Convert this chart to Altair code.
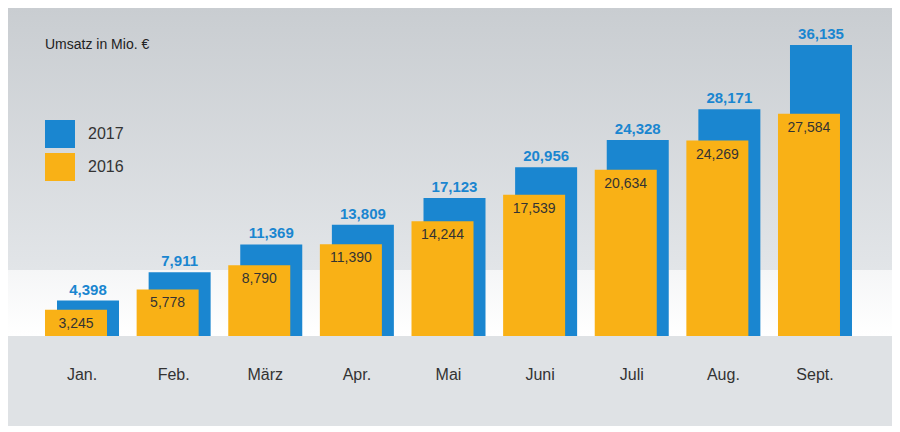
import altair as alt
import pandas as pd

months = ["Jan.", "Feb.", "März", "Apr.", "Mai", "Juni", "Juli", "Aug.", "Sept."]
umsatz_2017 = [4.398, 7.911, 11.369, 13.809, 17.123, 20.956, 24.328, 28.171, 36.135]
umsatz_2016 = [3.245, 5.778, 8.790, 11.390, 14.244, 17.539, 20.634, 24.269, 27.584]

BLUE = "#1a86d0"
YELLOW = "#f9b116"
W, H = 884, 328

df = pd.DataFrame({"m": months, "v17": umsatz_2017, "v16": umsatz_2016})

x = alt.X("m:N", sort=months, title=None,
          scale=alt.Scale(range=[28.2, 852.8], paddingInner=0, paddingOuter=0),
          axis=alt.Axis(domain=False, ticks=False, grid=False, labelAngle=0,
                        labelFontSize=16, labelColor="#333", labelPadding=30,
                        labelFont="Liberation Sans", zindex=2))
yscale = alt.Scale(domain=[0, 40.73])
y = alt.Y("v17:Q", scale=yscale, axis=None)
y16 = alt.Y("v16:Q", scale=yscale, axis=None)

base = alt.Chart(df)
one = pd.DataFrame({"a": [0]})

bg_top = alt.Chart(one).mark_rect(
    color=alt.Gradient(gradient="linear", x1=0, y1=0, x2=0, y2=1,
                       stops=[alt.GradientStop(color="#c9cdd1", offset=0),
                              alt.GradientStop(color="#e2e5e8", offset=1)])
).encode(x=alt.value(0), x2=alt.value(W), y=alt.value(0), y2=alt.value(262))
bg_floor = alt.Chart(one).mark_rect(
    color=alt.Gradient(gradient="linear", x1=0, y1=0, x2=0, y2=1,
                       stops=[alt.GradientStop(color="#f5f6f7", offset=0),
                              alt.GradientStop(color="#ffffff", offset=1)])
).encode(x=alt.value(0), x2=alt.value(W), y=alt.value(262), y2=alt.value(H))
bg_low = alt.Chart(one).mark_rect(color="#dfe2e5").encode(
    x=alt.value(0), x2=alt.value(W), y=alt.value(H), y2=alt.value(H + 90))

bars17 = base.mark_bar(color=BLUE, width=62, xOffset=6).encode(x=x, y=y)
bars16 = base.mark_bar(color=YELLOW, width=62, xOffset=-6).encode(x=x, y=y16)

lab17 = base.transform_calculate(
    t="replace(format(datum.v17, '.3f'), '.', ',')"
).mark_text(color=BLUE, fontWeight="bold", fontSize=15, dy=-11, xOffset=6,
            font="Liberation Sans").encode(x=x, y=y, text="t:N")
lab16 = base.transform_calculate(
    t="replace(format(datum.v16, '.3f'), '.', ',')"
).mark_text(color="#333", fontSize=14, dy=14, xOffset=-6,
            font="Liberation Sans").encode(x=x, y=y16, text="t:N")

title = alt.Chart(pd.DataFrame({"t": ["Umsatz in Mio. €"]})).mark_text(
    align="left", fontSize=14, color="#222", font="Liberation Sans"
).encode(x=alt.value(37), y=alt.value(37), text="t:N")

leg = pd.DataFrame({"lab": ["2017", "2016"], "c": [BLUE, YELLOW], "py": [126, 159]})
leg_sq = alt.Chart(leg).mark_rect(width=30, height=28).encode(
    x=alt.value(52), y=alt.Y("py:Q", scale=None), color=alt.Color("c:N", scale=None))
leg_tx = alt.Chart(leg).mark_text(align="left", fontSize=16, color="#333",
                                  font="Liberation Sans").encode(
    x=alt.value(80), y=alt.Y("py:Q", scale=None), text="lab:N")

chart = alt.layer(bg_top, bg_floor, bg_low, bars17, bars16, lab17, lab16,
                  title, leg_sq, leg_tx).properties(
    width=W, height=H, padding=0, background="#dfe2e5"
).configure_view(stroke=None)

chart.save("out.html", embed_options={"renderer": "svg", "actions": False})
